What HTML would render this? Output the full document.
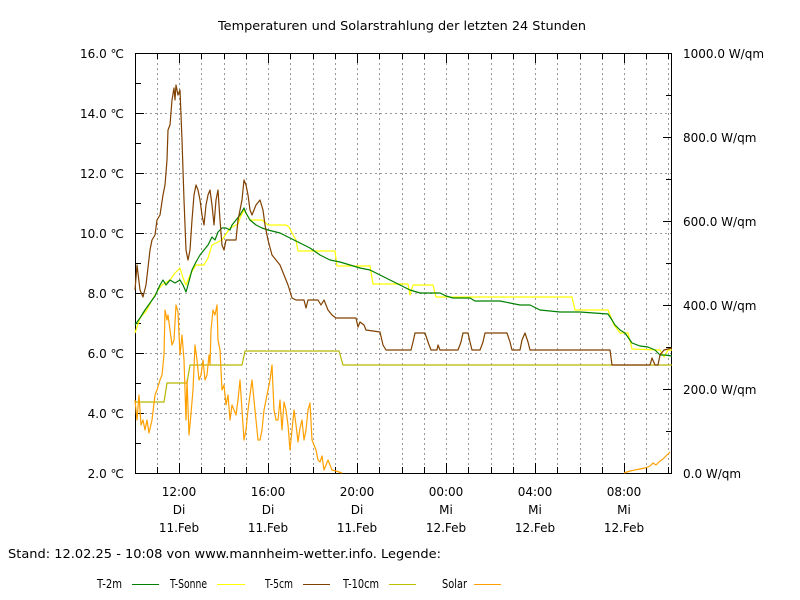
<!DOCTYPE html>
<html><head><meta charset="utf-8"><style>
html,body{margin:0;padding:0;background:#fff}
svg{display:block}
text{font-family:"DejaVu Sans","Liberation Sans",sans-serif;font-size:12px;fill:#000}
</style></head><body>
<svg width="800" height="600" viewBox="0 0 800 600" xmlns="http://www.w3.org/2000/svg">
<rect width="800" height="600" fill="#fff"/>
<text x="218" y="30" textLength="368" lengthAdjust="spacingAndGlyphs">Temperaturen und Solarstrahlung der letzten 24 Stunden</text>
<g stroke="#999" stroke-width="1" stroke-dasharray="2,3" fill="none">
<path d="M157.5 53V473M179.5 53V473M201.5 53V473M224.5 53V473M246.5 53V473M268.5 53V473M290.5 53V473M313.5 53V473M335.5 53V473M357.5 53V473M379.5 53V473M402.5 53V473M424.5 53V473M446.5 53V473M468.5 53V473M491.5 53V473M513.5 53V473M535.5 53V473M557.5 53V473M580.5 53V473M602.5 53V473M624.5 53V473M646.5 53V473M668.5 53V473"/>
<path d="M135 113.5H672M135 173.5H672M135 233.5H672M135 293.5H672M135 353.5H672M135 413.5H672"/>
</g>
<g stroke="#000" stroke-width="1" fill="none">
<rect x="135.5" y="53.5" width="536" height="420"/>
<path d="M135 83.5h6M135 113.5h9M135 143.5h6M135 173.5h9M135 203.5h6M135 233.5h9M135 263.5h6M135 293.5h9M135 323.5h6M135 353.5h9M135 383.5h6M135 413.5h9M135 443.5h6"/>
<path d="M672 95.5h-6M672 137.5h-9M672 179.5h-6M672 221.5h-9M672 263.5h-6M672 305.5h-9M672 347.5h-6M672 389.5h-9M672 431.5h-6"/>
<path d="M157.5 53v6M179.5 53v10M201.5 53v6M224.5 53v6M246.5 53v6M268.5 53v10M290.5 53v6M313.5 53v6M335.5 53v6M357.5 53v10M379.5 53v6M402.5 53v6M424.5 53v6M446.5 53v10M468.5 53v6M491.5 53v6M513.5 53v6M535.5 53v10M557.5 53v6M580.5 53v6M602.5 53v6M624.5 53v10M646.5 53v6M668.5 53v6"/>
<path d="M157.5 473v-6M179.5 473v-10M201.5 473v-6M224.5 473v-6M246.5 473v-6M268.5 473v-10M290.5 473v-6M313.5 473v-6M335.5 473v-6M357.5 473v-10M379.5 473v-6M402.5 473v-6M424.5 473v-6M446.5 473v-10M468.5 473v-6M491.5 473v-6M513.5 473v-6M535.5 473v-10M557.5 473v-6M580.5 473v-6M602.5 473v-6M624.5 473v-10M646.5 473v-6M668.5 473v-6"/>
</g>
<g text-anchor="end">
<text x="124" y="58">16.0 ℃</text><text x="124" y="118">14.0 ℃</text><text x="124" y="178">12.0 ℃</text><text x="124" y="238">10.0 ℃</text><text x="124" y="298">8.0 ℃</text><text x="124" y="358">6.0 ℃</text><text x="124" y="418">4.0 ℃</text><text x="124" y="478">2.0 ℃</text>
</g>
<g>
<text x="683" y="58">1000.0 W/qm</text><text x="683" y="142">800.0 W/qm</text><text x="683" y="226">600.0 W/qm</text><text x="683" y="310">400.0 W/qm</text><text x="683" y="394">200.0 W/qm</text><text x="683" y="478">0.0 W/qm</text>
</g>
<g text-anchor="middle">
<text x="179" y="496">12:00</text><text x="179" y="514">Di</text><text x="179" y="532">11.Feb</text>
<text x="268" y="496">16:00</text><text x="268" y="514">Di</text><text x="268" y="532">11.Feb</text>
<text x="357" y="496">20:00</text><text x="357" y="514">Di</text><text x="357" y="532">11.Feb</text>
<text x="446" y="496">00:00</text><text x="446" y="514">Mi</text><text x="446" y="532">12.Feb</text>
<text x="535" y="496">04:00</text><text x="535" y="514">Mi</text><text x="535" y="532">12.Feb</text>
<text x="624" y="496">08:00</text><text x="624" y="514">Mi</text><text x="624" y="532">12.Feb</text>
</g>
<text x="8" y="558" textLength="433" lengthAdjust="spacingAndGlyphs">Stand: 12.02.25 - 10:08 von www.mannheim-wetter.info. Legende:</text>
<text x="97" y="588" textLength="25" lengthAdjust="spacingAndGlyphs">T-2m</text><line x1="132" y1="584.5" x2="159" y2="584.5" stroke="#008000"/>
<text x="170" y="588" textLength="37" lengthAdjust="spacingAndGlyphs">T-Sonne</text><line x1="217" y1="584.5" x2="245" y2="584.5" stroke="#ffff00"/>
<text x="265" y="588" textLength="28" lengthAdjust="spacingAndGlyphs">T-5cm</text><line x1="303" y1="584.5" x2="330" y2="584.5" stroke="#804000"/>
<text x="343" y="588" textLength="36" lengthAdjust="spacingAndGlyphs">T-10cm</text><line x1="389" y1="584.5" x2="416" y2="584.5" stroke="#c0c000"/>
<text x="442" y="588" textLength="25" lengthAdjust="spacingAndGlyphs">Solar</text><line x1="474" y1="584.5" x2="501" y2="584.5" stroke="#ffa000"/>
<g fill="none" stroke-width="1.2" stroke-linejoin="round">
<polyline stroke="#b8b800" points="135,402 164,402 167,383 187,383 190,365 242,365 245,351 339,351 343,365 672,365"/>
<polyline stroke="#ffa000" points="135,400 137,420 139,395 141,425 143,420 145,430 147,420 149,433 152,420 155,395 157,390 160,380 162,375 164,355 165,310 167,320 168,315 170,330 172,345 174,340 176,305 178,312 180,355 182,335 184,360 186,420 187,380 189,435 190,425 193,390 195,345 197,360 199,380 201,375 203,360 205,380 207,375 209,355 210,365 211,330 213,310 215,315 217,305 218,340 220,350 222,390 224,385 226,405 228,395 230,420 232,405 234,410 236,415 238,400 240,380 242,410 244,440 246,430 248,410 250,395 252,380 254,400 256,420 258,440 260,440 262,430 264,410 266,400 268,390 270,380 272,365 274,410 276,420 278,420 280,400 282,430 284,402 286,410 288,425 290,450 292,430 294,410 296,425 298,442 300,428 302,420 304,440 306,430 308,410 310,403 312,440 314,445 316,450 318,460 320,462 322,456 324,470 326,465 328,460 330,465 332,470 336,471 342,473"/>
<polyline stroke="#ffa000" points="624,473 630,471 640,469 645,468 650,466 653,463 656,465 660,461 663,459 667,455 670,452"/>
<polyline stroke="#ffff00" points="135,333 140,318 147,310 152,300 158,290 162,285 170,280 175,273 178,270 180,268 183,278 186,285 190,275 196,265 204,265 208,258 212,245 218,242 222,240 230,228 238,224 240,218 244,210 247,215 250,220 262,220 268,225 286,225 289,227 292,233 296,240 298,251 335,251 337,266 370,266 373,284 408,284 410,295 413,285 433,285 436,297 572,297 575,310 608,310 614,325 620,333 628,333 632,349 660,350 664,357 668,350 672,350"/>
<polyline stroke="#008000" points="135,325 140,318 145,310 150,303 155,296 160,285 163,280 166,285 170,280 175,283 180,280 183,285 186,292 188,285 192,270 196,262 200,255 204,250 208,245 212,237 215,240 218,232 222,228 226,228 230,230 232,225 236,220 240,215 244,208 246,213 250,220 256,225 262,228 268,230 280,233 290,238 300,243 310,248 320,255 330,260 340,262 350,265 360,268 370,270 380,275 390,280 400,285 410,290 420,293 440,293 446,296 453,298 470,298 475,301 500,301 520,305 530,305 540,310 560,312 580,312 608,314 612,320 615,325 620,330 625,333 632,343 640,346 648,347 655,350 660,355 665,355 672,356"/>
<polyline stroke="#804000" points="135,290 137,265 140,290 143,297 146,285 150,250 152,240 155,235 157,220 160,215 163,195 165,185 167,160 168,130 170,125 172,100 174,88 175,100 176,85 178,95 180,90 182,140 184,200 186,250 188,260 190,250 192,220 194,195 196,185 198,190 200,200 202,215 204,225 206,205 208,195 210,190 212,205 214,225 216,200 218,190 220,220 222,245 224,250 226,240 228,240 236,240 238,220 242,200 244,180 246,185 248,195 250,210 252,215 256,205 260,200 263,210 265,225 268,240 272,255 276,260 280,265 284,275 288,285 292,298 296,300 304,300 306,308 308,300 318,300 321,305 324,300 328,310 332,315 336,318 356,318 358,327 360,322 364,325 366,330 380,332 383,345 386,350 411,350 413,342 415,333 425,333 428,342 431,350 437,350 438,345 440,350 458,350 461,342 463,333 468,333 470,342 472,350 480,350 483,342 485,333 507,333 510,342 512,350 520,350 522,340 525,333 528,342 530,350 610,350 612,365 650,365 652,358 655,365 658,365 660,355 664,350 672,348"/>
</g>
</svg>
</body></html>
